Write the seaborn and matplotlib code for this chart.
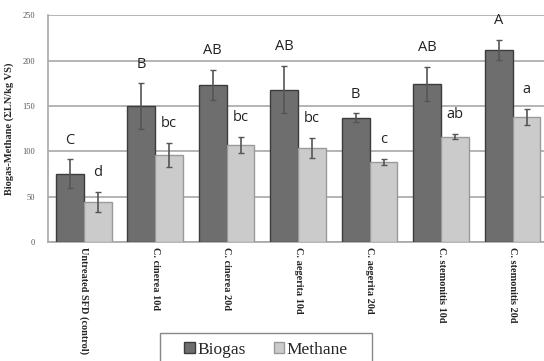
''' Biogas and methane yield per pretreatment, grouped bars with letters '''

import matplotlib
matplotlib.use("Agg")
import matplotlib.pyplot as plt
import numpy as np
import pandas as pd
import seaborn as sns

treatments = ["Untreated SFD (control)", "C. cinerea 10d", "C. cinerea 20d",
              "C. aegerita 10d", "C. aegerita 20d", "C. stemonitis 10d",
              "C. stemonitis 20d"]
biogas = [75, 150, 173, 168, 137, 174, 212]
biogas_err = [16, 25, 17, 26, 5, 19, 11]
methane = [44, 96, 107, 104, 88, 116, 138]
methane_err = [11, 13, 9, 11, 3.5, 3, 9]
biogas_letters = ["C", "B", "AB", "AB", "B", "AB", "A"]
methane_letters = ["d", "bc", "bc", "bc", "c", "ab", "a"]

colors = {"Biogas": "#6e6e6e", "Methane": "#cbcbcb"}
edges = {"Biogas": "#3c3c3c", "Methane": "#9a9a9a"}


def main():
    sns.set_style("white")
    plt.rcParams["font.family"] = ["DejaVu Sans"]
    serif = ["Liberation Serif", "DejaVu Serif"]

    df = pd.DataFrame({
        "treatment": treatments * 2,
        "gas": ["Biogas"] * len(treatments) + ["Methane"] * len(treatments),
        "value": biogas + methane,
    })

    fig = plt.figure(figsize=(5.44, 3.61), dpi=100)
    ax = fig.add_axes([0.088, 0.33, 0.92, 0.628])

    sns.barplot(data=df, x="treatment", y="value", hue="gas", order=treatments,
                hue_order=["Biogas", "Methane"], palette=colors, width=0.78,
                errorbar=None, ax=ax, legend=False, zorder=3)

    # bordas e barras de erro, serie por serie
    for cont, gas, err, letters in zip(ax.containers, ["Biogas", "Methane"],
                                       [biogas_err, methane_err],
                                       [biogas_letters, methane_letters]):
        xs, ys = [], []
        for bar in cont:
            bar.set_edgecolor(edges[gas])
            bar.set_linewidth(1.0)
            xs.append(bar.get_x() + bar.get_width() / 2)
            ys.append(bar.get_height())
        ax.errorbar(xs, ys, yerr=err, fmt="none", ecolor="#555555",
                    elinewidth=1.2, capsize=2.5, capthick=1.0, zorder=4)
        for x, y, e, lab in zip(xs, ys, err, letters):
            ax.text(x, y + e + 21, lab, ha="center", va="center",
                    fontsize=10.5, color="#222222", family=["Open Sans", "DejaVu Sans"])

    ax.set_ylim(0, 250)
    ax.set_xlim(-0.5, 6.5)
    ax.set_yticks(np.arange(0, 251, 50))
    ax.yaxis.grid(True, color="#a8a8a8", linewidth=1.2, zorder=0)
    ax.set_axisbelow(True)
    for s in ["top", "right"]:
        ax.spines[s].set_visible(False)
    for s in ["left", "bottom"]:
        ax.spines[s].set_color("#a8a8a8")
        ax.spines[s].set_linewidth(1.2)

    ax.tick_params(axis="both", length=0)
    ax.tick_params(axis="y", labelsize=6, labelcolor="#555555", pad=9)
    ax.set_yticks(ax.get_yticks())
    ax.set_yticklabels([str(int(t)) for t in ax.get_yticks()], family=serif)
    ax.set_xticks(range(len(treatments)))
    ax.set_xticklabels(treatments, rotation=270, ha="center", va="top",
                       fontsize=7.4, fontweight="bold", family=serif, color="#222222")
    ax.tick_params(axis="x", pad=4)
    ax.set_xlabel("")
    ax.set_ylabel("Biogas-Methane (\u03a3LN/kg VS)", fontsize=7.5,
                  fontweight="bold", family=serif, labelpad=6)

    # legenda sem moldura + caixa desenhada a parte (sai pela borda de baixo)
    handles = [plt.Rectangle((0, 0), 1, 1, facecolor=colors[g], edgecolor=edges[g])
               for g in ["Biogas", "Methane"]]
    fig.legend(handles, ["Biogas", "Methane"], loc="center",
               bbox_to_anchor=(0.489, 0.031), ncol=2, frameon=False,
               handlelength=0.6, handleheight=0.6, handletextpad=0.15,
               columnspacing=1.6, borderpad=0.0, borderaxespad=0.0,
               prop={"family": serif, "size": 12.5})
    box = plt.Rectangle((0.294, -0.05), 0.39, 0.128, transform=fig.transFigure,
                        fill=False, edgecolor="#888888", linewidth=1.0)
    fig.patches.append(box)

    fig.savefig("out.png", dpi=100)


if __name__ == "__main__":
    main()
